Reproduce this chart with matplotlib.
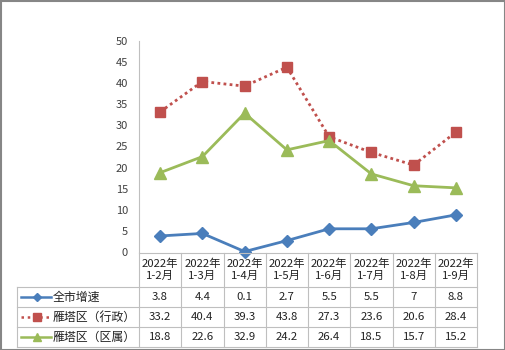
import matplotlib
matplotlib.use("Agg")
import matplotlib.pyplot as plt
from matplotlib.patches import Rectangle

plt.rcParams['font.family'] = ['Noto Sans CJK SC', 'DejaVu Sans']

categories = ["2022年\n1-2月", "2022年\n1-3月", "2022年\n1-4月", "2022年\n1-5月",
              "2022年\n1-6月", "2022年\n1-7月", "2022年\n1-8月", "2022年\n1-9月"]
city = [3.8, 4.4, 0.1, 2.7, 5.5, 5.5, 7, 8.8]
yanta_admin = [33.2, 40.4, 39.3, 43.8, 27.3, 23.6, 20.6, 28.4]
yanta_dist = [18.8, 22.6, 32.9, 24.2, 26.4, 18.5, 15.7, 15.2]
city_labels = ["3.8", "4.4", "0.1", "2.7", "5.5", "5.5", "7", "8.8"]
admin_labels = ["33.2", "40.4", "39.3", "43.8", "27.3", "23.6", "20.6", "28.4"]
dist_labels = ["18.8", "22.6", "32.9", "24.2", "26.4", "18.5", "15.7", "15.2"]
series_names = ["全市增速", "雁塔区（行政）", "雁塔区（区属）"]
yticks = [0, 5, 10, 15, 20, 25, 30, 35, 40, 45, 50]

W, H = 505, 350
fig = plt.figure(figsize=(W / 100, H / 100), dpi=100)

x0, x1 = 139, 477
ytop, ybot = 41, 252
ax = fig.add_axes([x0 / W, (H - ybot) / H, (x1 - x0) / W, (ybot - ytop) / H])
xs = list(range(len(categories)))

blue, red, green = "#4A7EBB", "#C0504D", "#9BBB59"
styles = [
    dict(color=blue, lw=2, marker="D", ms=6, ls="-", lms=4.5),
    dict(color=red, lw=2, marker="s", ms=7, ls=(0, (1, 1.2)), lms=6),
    dict(color=green, lw=2, marker="^", ms=8, ls="-", lms=6),
]
for vals, st in zip([city, yanta_admin, yanta_dist], styles):
    ax.plot(xs, vals, color=st["color"], lw=st["lw"], ls=st["ls"], marker=st["marker"],
            ms=st["ms"], mfc=st["color"], mec=st["color"], clip_on=False, zorder=3)

ax.set_xlim(-0.5, len(categories) - 0.5)
ax.set_ylim(0, 50)
ax.set_yticks(yticks)
ax.tick_params(axis="y", length=0, labelsize=8, labelcolor="#404040", pad=8)
ax.set_xticks([])
for s in ["top", "right", "bottom"]:
    ax.spines[s].set_visible(False)
ax.spines["left"].set_color("#BFBFBF")
ax.spines["left"].set_linewidth(0.8)

# table overlay in pixel coordinates
tab = fig.add_axes([0, 0, 1, 1])
tab.set_xlim(0, W)
tab.set_ylim(H, 0)
tab.axis("off")
tab.patch.set_alpha(0)

grid = "#BFBFBF"
n = len(categories)
cw = (x1 - x0) / n
colx = [x0 + i * cw for i in range(n + 1)]
lx = 17
rows = [253, 287, 307, 327, 347]

tab.plot([x0, x1], [rows[0], rows[0]], color=grid, lw=0.8)
for r in rows[1:]:
    tab.plot([lx, x1], [r, r], color=grid, lw=0.8)
for cx in colx:
    tab.plot([cx, cx], [rows[0], rows[-1]], color=grid, lw=0.8)
tab.plot([lx, lx], [rows[1], rows[-1]], color=grid, lw=0.8)

txtc = "#222222"
for i, c in enumerate(categories):
    tab.text(colx[i] + cw / 2, (rows[0] + rows[1]) / 2, c, ha="center", va="center",
             fontsize=8.2, color=txtc, linespacing=1.2)

for ri, (labels, name, st) in enumerate(zip([city_labels, admin_labels, dist_labels],
                                            series_names, styles)):
    yc = (rows[ri + 1] + rows[ri + 2]) / 2
    for i, v in enumerate(labels):
        tab.text(colx[i] + cw / 2, yc, v, ha="center", va="center", fontsize=8.2, color=txtc)
    ls = (0, (1, 1.5)) if ri == 1 else "-"
    tab.plot([21, 51], [yc, yc], color=st["color"], lw=1.8, ls=ls)
    tab.plot([37], [yc], marker=st["marker"], ms=st["lms"], color=st["color"], lw=0)
    tab.text(53, yc, name, ha="left", va="center", fontsize=8.6, color=txtc)

tab.add_patch(Rectangle((0.5, 0.5), W - 1, H - 1, fill=False, ec="#868686", lw=1.5))

fig.savefig("out.png", dpi=100)
